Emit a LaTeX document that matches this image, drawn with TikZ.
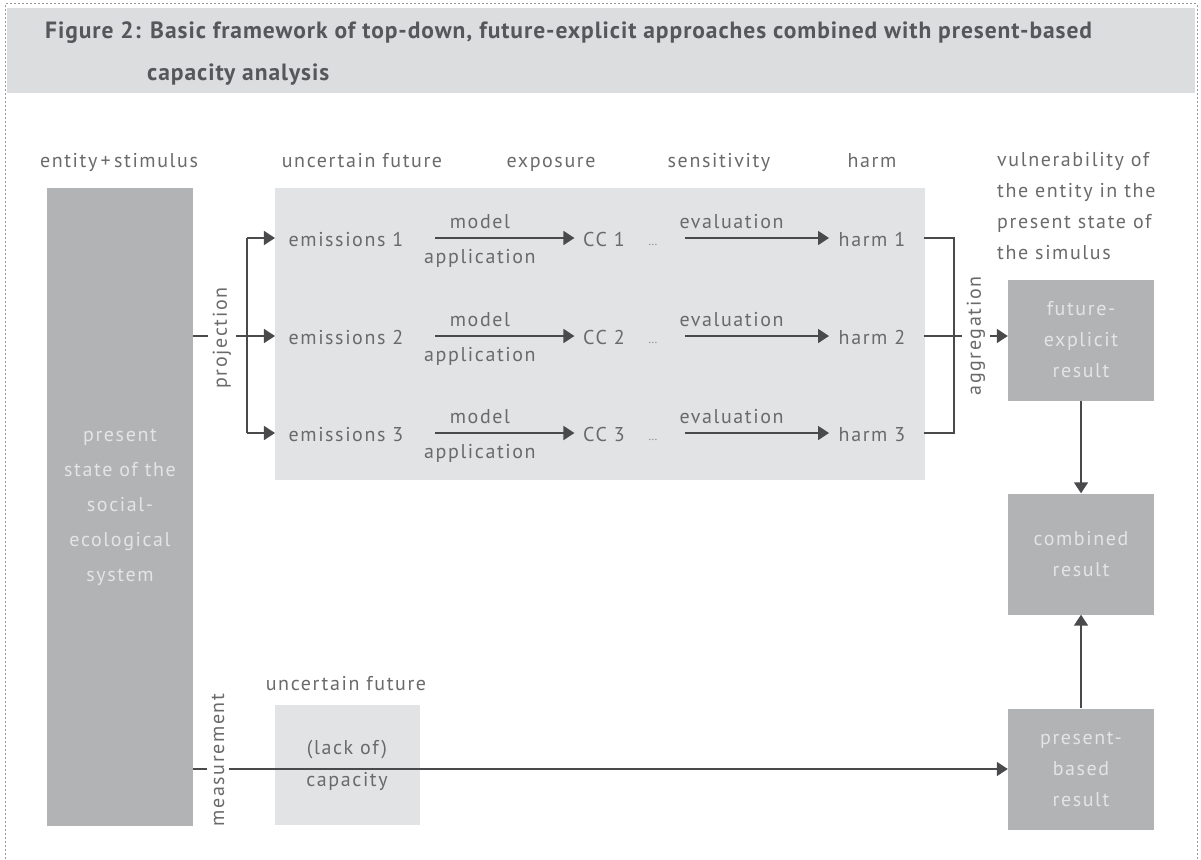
\documentclass[tikz,border=0pt]{standalone}
\usepackage{fontspec}
\setmainfont[LetterSpace=8]{PT Sans}
\newfontfamily\titlefont[LetterSpace=4]{PT Sans}
\usetikzlibrary{arrows.meta,positioning}
\definecolor{txtGray}{HTML}{6A6A6C}
\definecolor{lineGray}{HTML}{4A4A4C}
\definecolor{boxDark}{HTML}{B2B3B5}
\definecolor{boxLight}{HTML}{E2E3E5}
\definecolor{bandBg}{HTML}{DCDDDF}
\definecolor{boxText}{HTML}{E4E4E6}
\definecolor{titleGray}{HTML}{56575A}
\definecolor{borderGray}{HTML}{9A9A9C}
\tikzset{
  arr/.style={-{Triangle[length=11pt,width=14pt]}, line width=1.6pt, lineGray},
  link/.style={line width=1.6pt, lineGray},
  lbl/.style={font=\fontsize{20}{31}\selectfont, text=txtGray, inner sep=6.5pt,
    text height=16pt, text depth=0pt},
  dotlbl/.style={font=\fontsize{12}{14}\selectfont, text=txtGray!80, inner sep=1pt,
    text height=14pt, text depth=0pt},
  onarr/.style={font=\fontsize{20}{31}\selectfont, text=txtGray, inner sep=4pt},
  vlbl/.style={font=\fontsize{20}{31}\selectfont, text=txtGray, rotate=90,
    fill=white, inner sep=5pt},
  ttl/.style={font=\titlefont\bfseries\fontsize{23.5}{30}\selectfont, text=titleGray,
    inner sep=0pt},
  resbox/.style={fill=boxDark, minimum width=146pt, minimum height=121pt,
    align=center, text=boxText, inner sep=0pt, font=\fontsize{20}{31}\selectfont},
  bigbox/.style={fill=boxDark, minimum width=146pt, minimum height=638pt,
    align=center, text=boxText, inner sep=0pt, font=\fontsize{20}{35}\selectfont},
  capbox/.style={fill=boxLight, minimum width=145pt, minimum height=120pt,
    align=center, text=txtGray, inner sep=0pt, font=\fontsize{20}{32}\selectfont},
  panel/.style={fill=boxLight, minimum width=650pt, minimum height=292pt, inner sep=0pt},
  border/.style={borderGray, line width=1pt, dash pattern=on 2pt off 2pt}
}

\begin{document}
\begin{tikzpicture}[x=1pt,y=-1pt]
  \useasboundingbox (0,0) rectangle (1201,859);
  % frame and title band
  \fill[bandBg] (7,8) rectangle (1195,93);
  \draw[border] (5,859) -- (5,4) -- (1197,4) -- (1197,859);
  \node[ttl, anchor=base west] (ttl1) at (45,39)
    {Figure 2: Basic framework of top-down, future-explicit approaches combined with present-based};
  \node[ttl, anchor=base west] (ttl2) at (147,81) {capacity analysis};

  % column heads
  \node[lbl] (hEntity) at (119,159) {entity\,+\,stimulus};
  \node[lbl] (hFuture) at (362,159) {uncertain future};
  \node[lbl] (hExpo) at (551,159) {exposure};
  \node[lbl] (hSens) at (719,159) {sensitivity};
  \node[lbl] (hHarm) at (872,159) {harm};
  \node[font=\fontsize{20}{31}\selectfont, text=txtGray, align=left, inner sep=0pt,
    anchor=north west] (hVuln) at (997,152)
    {vulnerability of\\the entity in the\\present state of\\the simulus};

  % boxes
  \node[panel] (panel) at (600,334) {};
  \node[bigbox] (sys) at (120,507) {present\\state of the\\social-\\ecological\\system};
  \node[resbox] (fut) at (1081,340) {future-\\explicit\\result};
  \node[resbox] (comb) at (1081,554) {combined\\result};
  \node[resbox] (pres) at (1081,769) {present-\\based\\result};
  \node[lbl] (hFuture2) at (346,682) {uncertain future};
  \node[capbox] (cap) at (347,765) {(lack of)\\capacity};

  % chains
  \foreach \i/\y in {1/238,2/336,3/433}{
    \node[lbl] (em\i) at (346,\y) {emissions \i};
    \node[lbl] (cc\i) at (604,\y) {CC \i};
    \node[dotlbl] (dots\i) at (653,\y) {\ldots};
    \node[lbl] (harm\i) at (872,\y) {harm \i};
    \draw[arr, shorten <=25pt, shorten >=2pt] (em\i) --
      node[onarr, pos=0.42, above, yshift=4pt] {model}
      node[onarr, pos=0.42, below, yshift=-7pt] {application} (cc\i);
    \draw[arr, shorten <=26pt, shorten >=3pt] (dots\i) --
      node[onarr, pos=0.42, above, yshift=4pt] {evaluation} (harm\i);
  }

  % projection
  \coordinate (pj) at (247,336);
  \draw[link] (sys.east |- pj) -- (pj);
  \draw[arr, shorten >=7pt] (pj) -- (em2);
  \draw[arr, shorten >=7pt] (pj |- em1) -- (em1);
  \draw[arr, shorten >=7pt] (pj |- em3) -- (em3);
  \draw[link] (pj |- em1) -- (pj |- em3);
  \node[vlbl] (lProj) at (222,338) {projection};

  % aggregation
  \coordinate (ag) at (954,336);
  \draw[link] ([xshift=12pt]harm1.east) -- (ag |- harm1) -- (ag |- harm3) -- ([xshift=12pt]harm3.east);
  \draw[link] ([xshift=12pt]harm2.east) -- (ag);
  \draw[arr] (ag) -- (fut.west |- ag);
  \node[vlbl] (lAgg) at (976,336) {aggregation};

  % measurement and results
  \draw[arr] (sys.east |- pres) -- (pres.west);
  \node[vlbl] (lMeas) at (218,760) {measurement};
  \draw[arr] (fut) -- (comb);
  \draw[arr] (pres) -- (comb);
\end{tikzpicture}
\end{document}
